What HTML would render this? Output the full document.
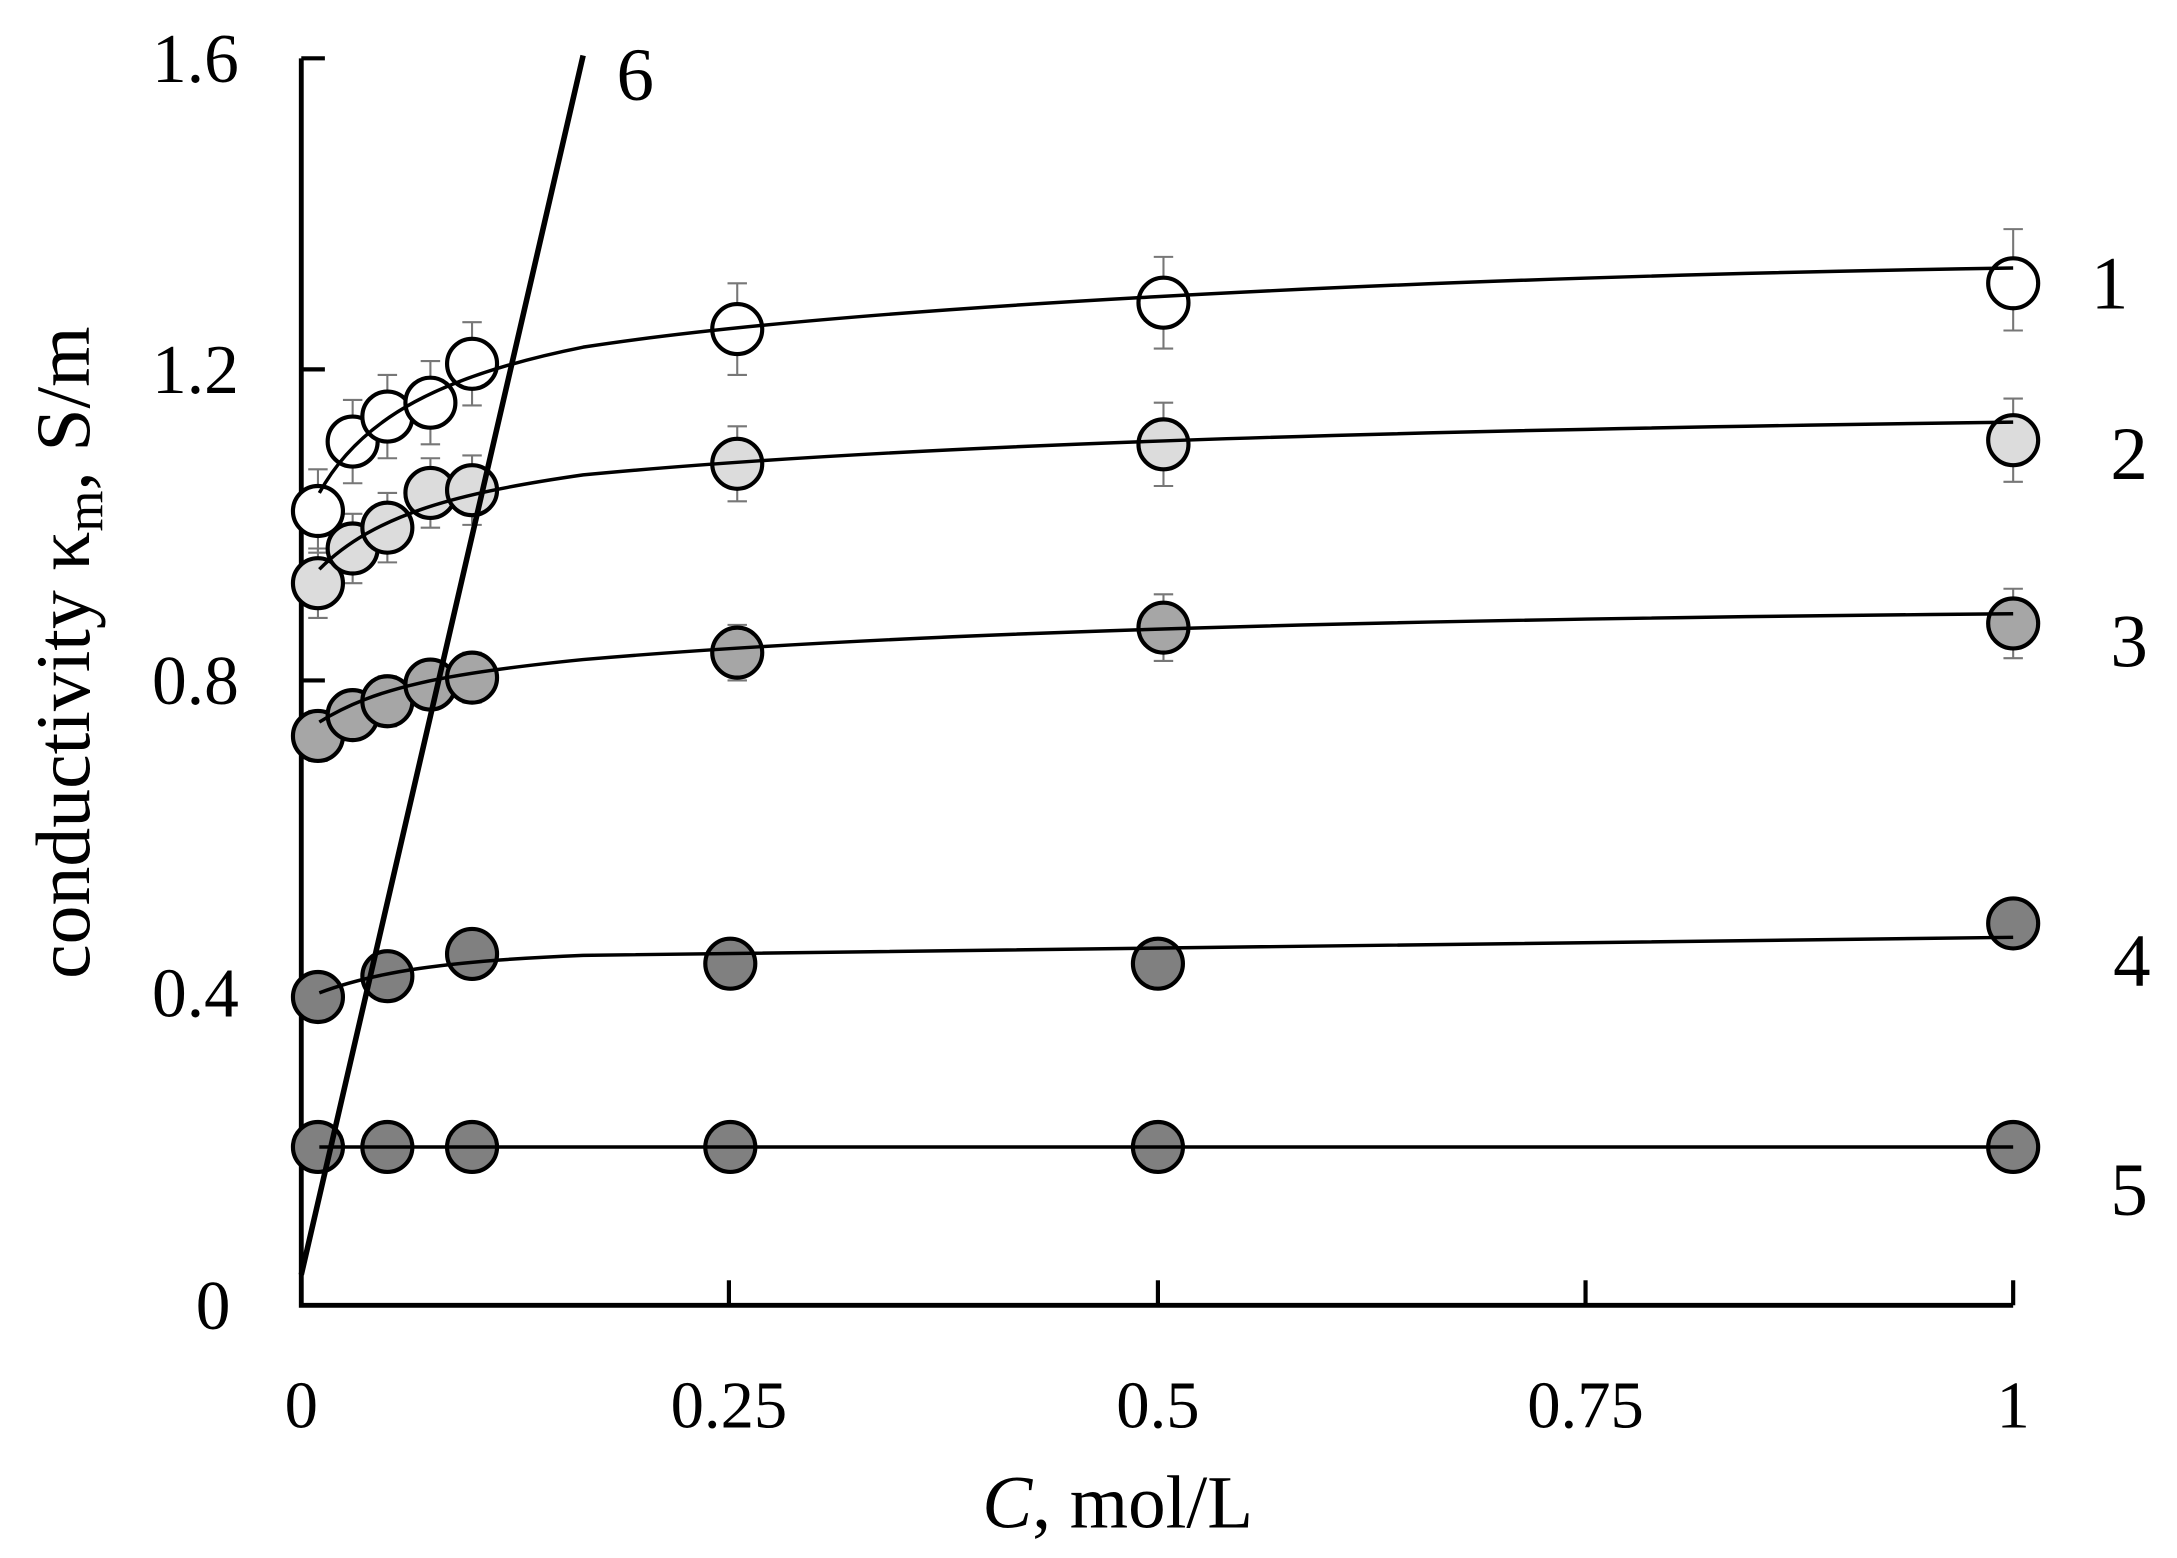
<!DOCTYPE html>
<html><head><meta charset="utf-8"><style>html,body{margin:0;padding:0;background:#fff;}svg{display:block}</style></head>
<body>
<svg width="2177" height="1558" viewBox="0 0 1568 1122" preserveAspectRatio="none" xmlns="http://www.w3.org/2000/svg" font-family="Liberation Serif, serif">
<rect width="1568" height="1122" fill="#fff"/>
<path d="M217,42 V940 H1450" fill="none" stroke="#000" stroke-width="3.5"/>
<g stroke="#000" stroke-width="3">
<line x1="217" y1="42" x2="234" y2="42"/>
<line x1="217" y1="266" x2="234" y2="266"/>
<line x1="217" y1="490" x2="234" y2="490"/>
<line x1="217" y1="715" x2="234" y2="715"/>
<line x1="525" y1="940" x2="525" y2="922"/>
<line x1="834" y1="940" x2="834" y2="922"/>
<line x1="1142" y1="940" x2="1142" y2="922"/>
<line x1="1450" y1="940" x2="1450" y2="922"/>
</g>
<g font-size="50" text-anchor="end" fill="#000">
<text x="172" y="59">1.6</text>
<text x="172" y="283">1.2</text>
<text x="172" y="507">0.8</text>
<text x="172" y="732">0.4</text>
<text x="166" y="957">0</text>
</g>
<g font-size="48" text-anchor="middle" fill="#000">
<text x="217" y="1028">0</text>
<text x="525" y="1028">0.25</text>
<text x="834" y="1028">0.5</text>
<text x="1142" y="1028">0.75</text>
<text x="1450" y="1028">1</text>
</g>
<text x="805" y="1100" font-size="54" text-anchor="middle"><tspan font-style="italic">C</tspan>, mol/L</text>
<text transform="translate(64,470) rotate(-90)" font-size="56" text-anchor="middle">conductivity κ<tspan font-size="38" dy="10">m</tspan><tspan dy="-10">, S/m</tspan></text>
<g font-size="54" fill="#000">
<text x="1506" y="222">1</text>
<text x="1520" y="345">2</text>
<text x="1520" y="480">3</text>
<text x="1522" y="710">4</text>
<text x="1520" y="875">5</text>
<text x="444" y="72">6</text>
</g>
<g stroke="#777" stroke-width="1.5" fill="none">
<path d="M229,338V398M222,338h14M222,398h14 M254,288V348M247,288h14M247,348h14 M279,270V330M272,270h14M272,330h14 M310,260V320M303,260h14M303,320h14 M340,232V292M333,232h14M333,292h14 M531,204V270M524,204h14M524,270h14 M838,185V251M831,185h14M831,251h14 M1450,165V238M1443,165h14M1443,238h14"/>
<path d="M229,395V445M222,395h14M222,445h14 M254,370V420M247,370h14M247,420h14 M279,355V405M272,355h14M272,405h14 M310,330V380M303,330h14M303,380h14 M340,328V378M333,328h14M333,378h14 M531,307V361M524,307h14M524,361h14 M838,290V350M831,290h14M831,350h14 M1450,287V347M1443,287h14M1443,347h14"/>
<path d="M229,512V548M222,512h14M222,548h14 M254,498V532M247,498h14M247,532h14 M279,487V523M272,487h14M272,523h14 M310,476V510M303,476h14M303,510h14 M340,470V506M333,470h14M333,506h14 M531,450V490M524,450h14M524,490h14 M838,428V476M831,428h14M831,476h14 M1450,424V474M1443,424h14M1443,474h14"/>
</g>
<g stroke="#000" stroke-width="3">
<g fill="#fff">
<circle cx="229" cy="368" r="18"/><circle cx="254" cy="318" r="18"/><circle cx="279" cy="300" r="18"/><circle cx="310" cy="290" r="18"/><circle cx="340" cy="262" r="18"/><circle cx="531" cy="237" r="18"/><circle cx="838" cy="218" r="18"/><circle cx="1450" cy="204" r="18"/>
</g>
<g fill="#dcdcdc">
<circle cx="229" cy="420" r="18"/><circle cx="254" cy="395" r="18"/><circle cx="279" cy="380" r="18"/><circle cx="310" cy="355" r="18"/><circle cx="340" cy="353" r="18"/><circle cx="531" cy="334" r="18"/><circle cx="838" cy="320" r="18"/><circle cx="1450" cy="317" r="18"/>
</g>
<g fill="#a6a6a6">
<circle cx="229" cy="530" r="18"/><circle cx="254" cy="515" r="18"/><circle cx="279" cy="505" r="18"/><circle cx="310" cy="493" r="18"/><circle cx="340" cy="488" r="18"/><circle cx="531" cy="470" r="18"/><circle cx="838" cy="452" r="18"/><circle cx="1450" cy="449" r="18"/>
</g>
<g fill="#808080">
<circle cx="229" cy="718" r="18"/><circle cx="279" cy="703" r="18"/><circle cx="340" cy="687" r="18"/><circle cx="526" cy="694" r="18"/><circle cx="834" cy="694" r="18"/><circle cx="1450" cy="665" r="18"/>
<circle cx="229" cy="826" r="18"/><circle cx="279" cy="826" r="18"/><circle cx="340" cy="826" r="18"/><circle cx="526" cy="826" r="18"/><circle cx="834" cy="826" r="18"/><circle cx="1450" cy="826" r="18"/>
</g>
</g>
<g fill="none" stroke="#000" stroke-width="2.5">
<path d="M230,355 C260,300 320,270 420,250 C600,222 1000,200 1450,193"/>
<path d="M230,410 C270,370 330,355 420,342 C650,320 1000,310 1450,304"/>
<path d="M230,520 C270,495 320,485 420,475 C650,455 1000,446 1450,442"/>
<path d="M230,715 C270,700 320,692 420,688 C700,682 1000,678 1450,675"/>
<path d="M230,826 H1450"/>
</g>
<line x1="217" y1="918" x2="420" y2="40" stroke="#000" stroke-width="4"/>
</svg>
</body></html>
